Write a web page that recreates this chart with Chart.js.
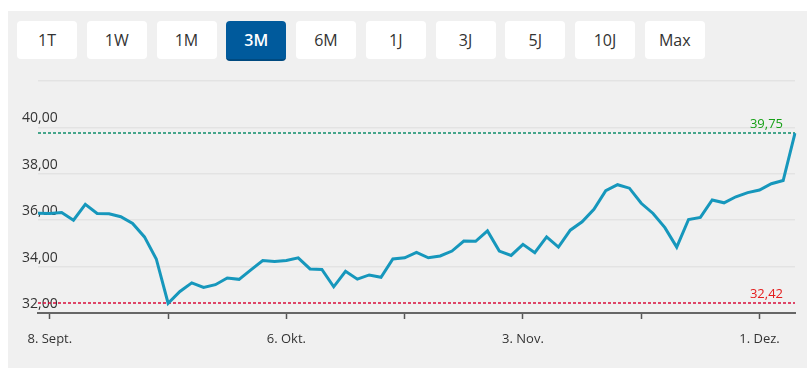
<!DOCTYPE html>
<html>
<head>
<meta charset="utf-8">
<script src="https://cdn.jsdelivr.net/npm/chart.js@4/dist/chart.umd.min.js"></script>
<style>
  body { margin: 0; width: 812px; height: 375px; background: #fff; overflow: hidden; position: relative;
         font-family: "Open Sans", "Noto Sans", sans-serif; }
  #panel { position: absolute; left: 8px; top: 11px; width: 799px; height: 357px; background: #f0f0f0; }
  #btns { position: absolute; left: 17px; top: 21px; display: flex; gap: 9.75px; }
  #btns div { width: 60px; height: 38px; line-height: 38px; text-align: center; background: #fff;
              border-radius: 4px; font-size: 16px; color: #333; box-sizing: border-box; }
  #btns div.on { background: #005a9c; color: #fff; font-weight: 600; border-bottom: 2px solid #00497f; line-height: 38px; height: 40px; }
  #chart { position: absolute; left: 0; top: 0; }
</style>
</head>
<body>
<div id="panel"></div>
<div id="btns"></div>
<canvas id="chart" width="812" height="375"></canvas>
<script>
// ------------------------------
// Daten
// ------------------------------
const ranges = ["1T", "1W", "1M", "3M", "6M", "1J", "3J", "5J", "10J", "Max"];
const activeRange = "3M";

const days = [
  "05.09.", "08.09.", "09.09.", "10.09.", "11.09.", "12.09.", "15.09.", "16.09.", "17.09.", "18.09.",
  "19.09.", "22.09.", "23.09.", "24.09.", "25.09.", "26.09.", "29.09.", "30.09.", "01.10.", "02.10.",
  "03.10.", "06.10.", "07.10.", "08.10.", "09.10.", "10.10.", "13.10.", "14.10.", "15.10.", "16.10.",
  "17.10.", "20.10.", "21.10.", "22.10.", "23.10.", "24.10.", "27.10.", "28.10.", "29.10.", "30.10.",
  "31.10.", "03.11.", "04.11.", "05.11.", "06.11.", "07.11.", "10.11.", "11.11.", "12.11.", "13.11.",
  "14.11.", "17.11.", "18.11.", "19.11.", "20.11.", "21.11.", "24.11.", "25.11.", "26.11.", "27.11.",
  "28.11.", "01.12.", "02.12.", "03.12.", "04.12."
];

const prices = [
  36.30, 36.29, 36.33, 36.00, 36.68, 36.29, 36.28, 36.15, 35.86, 35.28,
  34.33, 32.42, 32.93, 33.30, 33.10, 33.22, 33.51, 33.45, 33.86, 34.26,
  34.22, 34.26, 34.38, 33.90, 33.88, 33.13, 33.80, 33.46, 33.64, 33.54,
  34.33, 34.38, 34.61, 34.38, 34.46, 34.67, 35.10, 35.09, 35.54, 34.67,
  34.48, 34.96, 34.60, 35.28, 34.84, 35.57, 35.93, 36.47, 37.27, 37.53,
  37.38, 36.73, 36.29, 35.68, 34.84, 36.03, 36.12, 36.87, 36.75, 37.01,
  37.19, 37.30, 37.57, 37.71, 39.75
];

// beschriftete Tage + Tick-Striche
const tickDays = ["08.09.", "22.09.", "06.10.", "20.10.", "03.11.", "17.11.", "01.12."];
const labelDays = ["08.09.", "06.10.", "03.11.", "01.12."];
const labelNames = ["8. Sept.", "6. Okt.", "3. Nov.", "1. Dez."];

const highValue = 39.75;
const lowValue = 32.42;
const yMin = 32, yMax = 42, yStep = 2;

// ------------------------------
// Buttons
// ------------------------------
const btns = document.getElementById("btns");
ranges.forEach(r => {
  const d = document.createElement("div");
  d.textContent = r;
  if (r === activeRange) d.className = "on";
  btns.appendChild(d);
});

const fmt = v => v.toFixed(2).replace(".", ",");

// ------------------------------
// Hoch / Tief Linien
// ------------------------------
const refLines = {
  id: "refLines",
  beforeDatasetsDraw(chart) {
    const { ctx, chartArea: a, scales: { y } } = chart;
    const lines = [
      { v: highValue, line: "#0e8c6a", text: "#16a016" },
      { v: lowValue, line: "#d80c3a", text: "#e41c1c" }
    ];
    ctx.save();
    lines.forEach(l => {
      const py = Math.round(y.getPixelForValue(l.v));
      ctx.strokeStyle = l.line;
      ctx.lineWidth = 1.3;
      ctx.setLineDash([3, 2]);
      ctx.beginPath();
      ctx.moveTo(a.left, py);
      ctx.lineTo(a.right, py);
      ctx.stroke();
      ctx.setLineDash([]);
      ctx.fillStyle = l.text;
      ctx.font = '13px "Open Sans"';
      ctx.textAlign = "right";
      ctx.textBaseline = "middle";
      ctx.fillText(fmt(l.v), a.right - 12, py - 9);
    });
    ctx.restore();
  }
};

new Chart(document.getElementById("chart"), {
  type: "line",
  data: {
    labels: days,
    datasets: [
      {
        data: prices,
        borderColor: "#1697bc",
        borderWidth: 3,
        pointRadius: 0,
        tension: 0,
        fill: false
      }
    ]
  },
  options: {
    responsive: false,
    animation: false,
    devicePixelRatio: 1,
    layout: { padding: { left: 38, right: 17, top: 81, bottom: 0 } },
    plugins: { legend: { display: false }, tooltip: { enabled: false } },
    scales: {
      x: {
        offset: false,
        afterFit: s => { s.height = 62; },
        border: { display: true, color: "#666", width: 2 },
        grid: {
          drawOnChartArea: false,
          drawTicks: true,
          tickLength: 6,
          tickWidth: 1.5,
          tickColor: c => tickDays.includes(days[c.index]) ? "#555" : "transparent"
        },
        ticks: {
          autoSkip: false,
          maxRotation: 0,
          padding: 12,
          color: "#333",
          font: { family: "Open Sans", size: 13 },
          callback: (v, i) => {
            const k = labelDays.indexOf(days[i]);
            return k >= 0 ? labelNames[k] : "";
          }
        }
      },
      y: {
        min: yMin,
        max: yMax,
        afterFit: s => { s.width = 0; },
        border: { display: false },
        grid: { color: "#e3e3e3", lineWidth: 1.5, drawTicks: false },
        ticks: {
          stepSize: yStep,
          mirror: true,
          padding: -16,
          labelOffset: -9,
          color: "#333",
          font: { family: "Open Sans", size: 14 },
          callback: v => (v === yMax ? "" : fmt(v))
        }
      }
    }
  },
  plugins: [refLines]
});
</script>
</body>
</html>
